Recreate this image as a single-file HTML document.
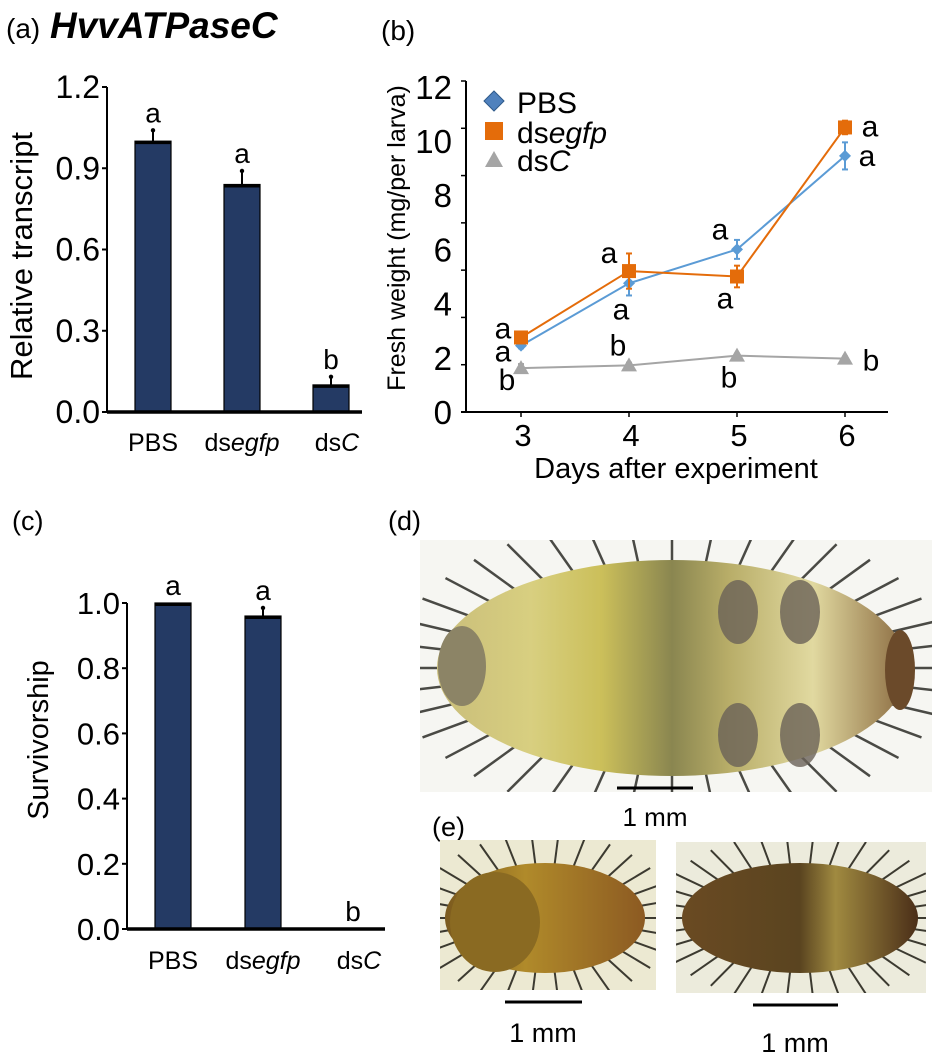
<!DOCTYPE html>
<html><head><meta charset="utf-8"><style>
body{margin:0;background:#fff;width:932px;height:1058px;overflow:hidden}
svg{display:block;font-family:"Liberation Sans",Arial,sans-serif}
</style></head><body>
<svg id="fig" width="932" height="1058" viewBox="0 0 932 1058">
<defs>
<linearGradient id="bodyD2" x1="0" x2="1"><stop offset="0" stop-color="#c9bd7a"/><stop offset="0.2" stop-color="#d8cf80"/><stop offset="0.35" stop-color="#cbbf5a"/><stop offset="0.5" stop-color="#8a8650"/><stop offset="0.62" stop-color="#b8ad68"/><stop offset="0.8" stop-color="#e1d9a0"/><stop offset="1" stop-color="#8a6a40"/></linearGradient>
<linearGradient id="bodyE1" x1="0" x2="1"><stop offset="0" stop-color="#7b5a1e"/><stop offset="0.4" stop-color="#b08a2a"/><stop offset="1" stop-color="#8c5a22"/></linearGradient>
<linearGradient id="bodyE2" x1="0" x2="1"><stop offset="0" stop-color="#6a4a22"/><stop offset="0.5" stop-color="#5a4420"/><stop offset="0.65" stop-color="#a08a40"/><stop offset="1" stop-color="#4a2e18"/></linearGradient>
<clipPath id="clipD"><rect x="420" y="540" width="512" height="252"/></clipPath>
<clipPath id="clipE1"><rect x="440" y="840" width="216" height="150"/></clipPath>
<clipPath id="clipE2"><rect x="676" y="842" width="250" height="151"/></clipPath>
</defs>
<g id="pa"></g>
<g id="pb"></g>
<g id="pc"></g>
<g id="pd">
  <text x="388" y="530" font-size="27">(d)</text>
  <g clip-path="url(#clipD)">
  <rect x="420" y="540" width="512" height="252" fill="#f6f6f2"/>
  <g id="spD" stroke="#4a4a45" stroke-width="2.5"></g>
  <ellipse cx="672" cy="668" rx="235" ry="108" fill="url(#bodyD2)"/>
  <ellipse cx="462" cy="666" rx="24" ry="40" fill="#8c8466"/>
  <ellipse cx="738" cy="612" rx="20" ry="32" fill="#6a6258" opacity="0.8"/>
  <ellipse cx="800" cy="612" rx="20" ry="32" fill="#6a6258" opacity="0.8"/>
  <ellipse cx="738" cy="735" rx="20" ry="32" fill="#6a6258" opacity="0.8"/>
  <ellipse cx="800" cy="735" rx="20" ry="32" fill="#6a6258" opacity="0.8"/>
  <ellipse cx="900" cy="670" rx="15" ry="40" fill="#6b4a2a"/>
  </g>
  <line x1="617" y1="788" x2="693" y2="788" stroke="#000" stroke-width="3"/>
  <text x="655" y="826" font-size="26" text-anchor="middle">1 mm</text>
</g>
<g id="pe">
  <text x="432" y="836" font-size="27">(e)</text>
  <g clip-path="url(#clipE1)">
  <rect x="440" y="840" width="216" height="150" fill="#ece9d2"/>
  <g id="spE1" stroke="#3c3a30" stroke-width="2"></g>
  <ellipse cx="545" cy="918" rx="100" ry="55" fill="url(#bodyE1)"/>
  <ellipse cx="495" cy="922" rx="45" ry="50" fill="#8a6a22"/>
  </g>
  <g clip-path="url(#clipE2)">
  <rect x="676" y="842" width="250" height="151" fill="#ecebdc"/>
  <g id="spE2" stroke="#3c3a30" stroke-width="2"></g>
  <ellipse cx="800" cy="918" rx="118" ry="55" fill="url(#bodyE2)"/>
  </g>
  <line x1="505" y1="1002" x2="582" y2="1002" stroke="#000" stroke-width="3"/>
  <text x="543" y="1042" font-size="27" text-anchor="middle">1 mm</text>
  <line x1="753" y1="1005" x2="838" y2="1005" stroke="#000" stroke-width="3"/>
  <text x="795" y="1052" font-size="27" text-anchor="middle">1 mm</text>
</g>
</svg>
<script>
const NS="http://www.w3.org/2000/svg";
// Panel (a) data
const catsA=["PBS","dsegfp","dsC"];
const valsA=[1.0,0.84,0.10];
const errA=[0.04,0.05,0.03];
const letA=["a","a","b"];
const ticksA=[0.0,0.3,0.6,0.9,1.2];
// Panel (b) data
const days=[3,4,5,6];
const pbsW=[2.45,4.75,6.0,9.45];
const pbsE=[0.1,0.45,0.35,0.5];
const egfpW=[2.75,5.2,5.0,10.5];
const egfpE=[0.1,0.65,0.4,0.25];
const dscW=[1.62,1.72,2.08,1.97];
const dscE=[0.15,0.1,0.08,0.08];
const ticksB=[0,2,4,6,8,10,12];
// Panel (c) data
const catsC=["PBS","dsegfp","dsC"];
const valsC=[1.0,0.96,0.0];
const errC=[0,0.025,0];
const letC=["a","a","b"];
const ticksC=[0.0,0.2,0.4,0.6,0.8,1.0];

function el(tag,attrs,parent,txt){const e=document.createElementNS(NS,tag);for(const k in attrs)e.setAttribute(k,attrs[k]);if(txt!==undefined)e.textContent=txt;parent.appendChild(e);return e;}
function catLabel(parent,x,y,c,fs){
  const t=el("text",{x:x,y:y,"font-size":fs,"text-anchor":"middle"},parent);
  if(c==="PBS"){t.textContent="PBS";}
  else{el("tspan",{},t,"ds");el("tspan",{"font-style":"italic"},t,c.slice(2));}
  return t;
}
function barPanel(g,o){
  const y=v=>o.y0-(v/o.max)*(o.y0-o.yTop);
  const xs=i=>o.x0+o.first+i*o.step;
  o.ticks.forEach(t=>{
    const ln=el("line",{x1:o.axX-5,x2:o.axX,y1:y(t),y2:y(t),stroke:"#000","stroke-width":2},g);
    
    
    const tx=el("text",{x:o.axX-7,y:y(t)+11,"font-size":o.tfs,"text-anchor":"end"},g,t.toFixed(1));
    
    
  });
  o.vals.forEach((v,i)=>{
    const x=xs(i);
    if(v>0){
      const r=el("rect",{x:x,y:y(v),width:36,height:o.y0-y(v),fill:"#243a64",stroke:"#000","stroke-width":1.2},g);
      
      
      el("line",{x1:x,x2:x+36,y1:y(v)+1.5,y2:y(v)+1.5,stroke:"#000","stroke-width":3},g);
    }
    if(o.err[i]>0){
      const eb=el("line",{x1:x+18,x2:x+18,y1:y(v),y2:y(v+o.err[i]),stroke:"#000","stroke-width":2},g);
      
      
      el("circle",{cx:x+18,cy:y(v+o.err[i]),r:2.2,fill:"#000"},g);
    }
    const lt=el("text",{x:x+18,y:y(v+o.err[i])-8,"font-size":28,"text-anchor":"middle"},g,o.let[i]);
    
    
    const cl=catLabel(g,x+18+(i===2?6:0),o.y0+o.cly,o.cats[i],o.cfs);
    
    
  });
  const ya=el("line",{x1:o.axX,x2:o.axX,y1:o.yTop,y2:o.y0,stroke:"#000","stroke-width":2},g);
  
  
  const xa=el("line",{x1:o.axX,x2:o.xEnd,y1:o.y0,y2:o.y0,stroke:"#000","stroke-width":3.5},g);
  
  
  const yt=el("text",{x:0,y:0,"font-size":o.yfs,"text-anchor":"middle",transform:`translate(${o.ylX},${o.ylY}) rotate(-90)`},g,o.ylabel);
  
  
}
const ga=document.getElementById("pa");
const ta=el("text",{x:6,y:38,"font-size":28},ga,"(a) ");


el("tspan",{"font-weight":"bold","font-style":"italic","font-size":37,dx:2},ta,"HvvATPaseC");
barPanel(ga,{axX:107,x0:107,first:28,step:89,y0:412,yTop:87,max:1.2,xEnd:362,ticks:ticksA,vals:valsA,err:errA,let:letA,cats:catsA,ylabel:"Relative transcript",ylX:32,ylY:256,tfs:32,cfs:25,cly:39,yfs:31});
const gc=document.getElementById("pc");
const tc=el("text",{x:12,y:530,"font-size":27},gc,"(c)");


barPanel(gc,{axX:127,x0:127,first:28,step:90,y0:929,yTop:603,max:1.0,xEnd:385,ticks:ticksC,vals:valsC,err:errC,let:letC,cats:catsC,ylabel:"Survivorship",ylX:48,ylY:740,tfs:31,cfs:25,cly:40,yfs:29});

const gb=document.getElementById("pb");
const tb=el("text",{x:381,y:40,"font-size":28},gb,"(b)");


const bx=d=>521+(d-3)*108, by=v=>412-v*27.1;
const bYa=el("line",{x1:466,x2:466,y1:81,y2:412,stroke:"#000","stroke-width":2},gb);


const bXa=el("line",{x1:461,x2:888,y1:412,y2:412,stroke:"#000","stroke-width":2},gb);


for(let k=0;k<=7;k++){el("line",{x1:461,x2:466,y1:412-k*331/7,y2:412-k*331/7,stroke:"#000","stroke-width":1.5},gb);}
ticksB.forEach(t=>{
  const tx=el("text",{x:452,y:by(t)+12,"font-size":33,"text-anchor":"end"},gb,String(t));
  
  
});
days.forEach(d=>{
  el("line",{x1:bx(d),x2:bx(d),y1:412,y2:417,stroke:"#000","stroke-width":1.5},gb);
  const tx=el("text",{x:bx(d)+2,y:446,"font-size":31,"text-anchor":"middle"},gb,String(d));
  
  
});
const bxt=el("text",{x:676,y:478,"font-size":29,"text-anchor":"middle"},gb,"Days after experiment");


const byt=el("text",{x:0,y:0,"font-size":25,"text-anchor":"middle",transform:"translate(405,238) rotate(-90)"},gb,"Fresh weight (mg/per larva)");


function series(vals,errs,color,marker,name){
  const pts=vals.map((v,i)=>bx(days[i])+","+by(v)).join(" ");
  const pl=el("polyline",{points:pts,fill:"none",stroke:color,"stroke-width":2},gb);
  
  
  vals.forEach((v,i)=>{
    const x=bx(days[i]),y=by(v),e=errs[i];
    el("line",{x1:x,x2:x,y1:by(v+e),y2:by(v-e),stroke:color,"stroke-width":2},gb);
    el("line",{x1:x-3,x2:x+3,y1:by(v+e),y2:by(v+e),stroke:color,"stroke-width":2},gb);
    el("line",{x1:x-3,x2:x+3,y1:by(v-e),y2:by(v-e),stroke:color,"stroke-width":2},gb);
    let m;
    if(marker==="d")m=el("polygon",{points:`${x},${y-6} ${x+6},${y} ${x},${y+6} ${x-6},${y}`,fill:color},gb);
    else if(marker==="s")m=el("rect",{x:x-7,y:y-7,width:14,height:14,fill:color},gb);
    else m=el("polygon",{points:`${x},${y-8} ${x+8},${y+6} ${x-8},${y+6}`,fill:color},gb);
    
    
  });
}
series(dscW,dscE,"#a5a5a5","t","dsc");
series(pbsW,pbsE,"#5b9bd5","d","pbs");
series(egfpW,egfpE,"#e46c0a","s","dsegfp");
const lettersB=[["a",bx(3)-18,by(egfpW[0])+1],["a",bx(3)-18,by(pbsW[0])+16],["b",bx(3)-14,by(dscW[0])+22],
["a",bx(4)-20,by(egfpW[1])-8],["a",bx(4)-8,by(pbsW[1])+36],["b",bx(4)-11,by(dscW[1])-10],
["a",bx(5)-17,by(pbsW[2])-10],["a",bx(5)-12,by(egfpW[2])+32],["b",bx(5)-8,by(dscW[2])+32],
["a",bx(6)+25,by(egfpW[3])+9],["a",bx(6)+22,by(pbsW[3])+10],["b",bx(6)+26,by(dscW[3])+12]];
lettersB.forEach(l=>{
  const t=el("text",{x:l[1],y:l[2],"font-size":30,"text-anchor":"middle"},gb,l[0]);
  
  
});
const lg=el("g",{},gb);


el("polygon",{points:"494,91 504,101 494,111 484,101",fill:"#4f81bd",stroke:"#2e5a8a"},lg);
el("text",{x:517,y:113,"font-size":30},lg,"PBS");
el("rect",{x:485,y:122,width:18,height:18,fill:"#e46c0a"},lg);
const le=el("text",{x:517,y:143,"font-size":30},lg);el("tspan",{},le,"ds");el("tspan",{"font-style":"italic"},le,"egfp");
el("polygon",{points:"494,151 503,167 485,167",fill:"#a5a5a5"},lg);
const lc=el("text",{x:517,y:171,"font-size":30},lg);el("tspan",{},lc,"ds");el("tspan",{"font-style":"italic"},lc,"C");

function spikes(gid,cx,cy,rx,ry,n,len){
  const g=document.getElementById(gid);
  for(let i=0;i<n;i++){
    const a=i/n*Math.PI*2;
    const x1=cx+Math.cos(a)*rx*0.8,y1=cy+Math.sin(a)*ry*0.8;
    const x2=cx+Math.cos(a)*(rx+len),y2=cy+Math.sin(a)*(ry+len);
    el("line",{x1:x1,y1:y1,x2:x2,y2:y2},g);
  }
}
spikes("spD",672,668,235,108,40,45);
spikes("spE1",545,918,100,55,30,30);
spikes("spE2",800,918,118,55,34,30);
</script>
</body></html>
